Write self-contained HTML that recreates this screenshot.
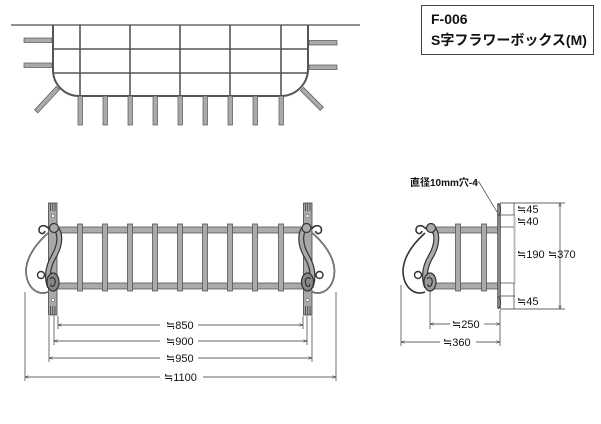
<!DOCTYPE html>
<html><head><meta charset="utf-8"><style>
html,body{margin:0;padding:0;background:#fff;}
svg{display:block;}
text{font-family:"Liberation Sans Narrow","Liberation Sans","Noto Sans CJK JP",sans-serif;fill:#111;}
</style></head><body>
<svg width="601" height="424" viewBox="0 0 601 424" xmlns="http://www.w3.org/2000/svg">
<defs>
<g id="scroll">
  <rect x="48.5" y="203" width="8.5" height="112" fill="#a8a8a8" stroke="#444" stroke-width="0.8"/>
  <g stroke="#333" stroke-width="0.7">
    <line x1="50.5" y1="203" x2="50.5" y2="211"/><line x1="52.8" y1="203" x2="52.8" y2="211"/><line x1="55" y1="203" x2="55" y2="211"/>
    <line x1="50.5" y1="306" x2="50.5" y2="315"/><line x1="52.8" y1="306" x2="52.8" y2="315"/><line x1="55" y1="306" x2="55" y2="315"/>
  </g>
  <circle cx="53" cy="216" r="1.6" fill="#fff" stroke="#444" stroke-width="0.5"/>
  <circle cx="53" cy="300" r="1.6" fill="#fff" stroke="#444" stroke-width="0.5"/>
  <path d="M48,233 C38,242 27,255 26,270 C26,288 38,296 48,292" fill="none" stroke="#333" stroke-width="1.6"/>
  <path d="M48,233 C38,242 27,255 26,270 C26,288 38,296 48,292" fill="none" stroke="#aaa" stroke-width="0.6"/>
  <path d="M49,229 C45,224 39,225 39,230 C39,234 44,235 45,231" fill="none" stroke="#333" stroke-width="1.6"/>
  <circle cx="41" cy="275" r="3.5" fill="none" stroke="#333" stroke-width="1.4"/>
  <path d="M54,227 C62,232 60,246 54,256 C48,266 46,276 50,287" fill="none" stroke="#333" stroke-width="6"/>
  <path d="M54,227 C62,232 60,246 54,256 C48,266 46,276 50,287" fill="none" stroke="#aaa" stroke-width="3.6"/>
  <circle cx="54" cy="228" r="4.5" fill="#aaa" stroke="#333" stroke-width="1.2"/>
  <ellipse cx="53" cy="282" rx="6" ry="9" fill="#888" stroke="#333" stroke-width="1.2"/>
  <path d="M50,279 C52,276 56,278 55,283 C54,288 50,287 51,284" fill="none" stroke="#222" stroke-width="1"/>
</g>
<g id="sscroll">
  <path d="M48,233 C38,242 27,255 26,270 C26,288 38,296 48,292" fill="none" stroke="#333" stroke-width="1.6"/>
  <path d="M49,229 C45,224 39,225 39,230 C39,234 44,235 45,231" fill="none" stroke="#333" stroke-width="1.6"/>
  <circle cx="41" cy="275" r="3.5" fill="none" stroke="#333" stroke-width="1.4"/>
  <path d="M54,227 C62,232 60,246 54,256 C48,266 46,276 50,287" fill="none" stroke="#333" stroke-width="6"/>
  <path d="M54,227 C62,232 60,246 54,256 C48,266 46,276 50,287" fill="none" stroke="#aaa" stroke-width="3.6"/>
  <circle cx="54" cy="228" r="4.5" fill="#aaa" stroke="#333" stroke-width="1.2"/>
  <ellipse cx="53" cy="282" rx="6" ry="9" fill="#999" stroke="#333" stroke-width="1.2"/>
  <path d="M50,279 C52,276 56,278 55,283 C54,288 50,287 51,284" fill="none" stroke="#222" stroke-width="1"/>
</g>
<marker id="ar" viewBox="0 0 8 6" refX="8" refY="3" markerWidth="6" markerHeight="4" orient="auto-start-reverse">
  <path d="M0,0 L8,3 L0,6" fill="none" stroke="#333" stroke-width="1"/>
</marker>
</defs>

<line x1="11" y1="25" x2="360" y2="25" stroke="#222" stroke-width="1"/>
<path d="M53,25 L53,70 A26,26 0 0 0 79,96 L281,96 A27,27 0 0 0 308,69 L308,25" fill="none" stroke="#555" stroke-width="2"/>
<g stroke="#555" stroke-width="1.6">
  <line x1="53" y1="49" x2="308" y2="49"/>
  <line x1="53" y1="73" x2="308" y2="73"/>
  <line x1="80" y1="25" x2="80" y2="96"/>
  <line x1="130" y1="25" x2="130" y2="96"/>
  <line x1="180" y1="25" x2="180" y2="96"/>
  <line x1="230" y1="25" x2="230" y2="96"/>
  <line x1="281" y1="25" x2="281" y2="96"/>
</g>
<g fill="#aaa" stroke="#555" stroke-width="0.7">
  <rect x="78" y="96" width="4.5" height="29"/><rect x="103" y="96" width="4.5" height="29"/>
  <rect x="128" y="96" width="4.5" height="29"/><rect x="153" y="96" width="4.5" height="29"/>
  <rect x="178" y="96" width="4.5" height="29"/><rect x="203" y="96" width="4.5" height="29"/>
  <rect x="228" y="96" width="4.5" height="29"/><rect x="253" y="96" width="4.5" height="29"/>
  <rect x="279" y="96" width="4.5" height="29"/>
  <rect x="24" y="38" width="28" height="4.5"/><rect x="24" y="63" width="28" height="4.5"/>
  <rect x="309" y="40.5" width="28" height="4.5"/><rect x="309" y="65" width="28" height="4.5"/>
  <rect x="-2.25" y="0" width="4.5" height="32" transform="translate(58,88) rotate(43)"/>
  <rect x="-2.25" y="0" width="4.5" height="28" transform="translate(302,89) rotate(-45)"/>
</g>

<rect x="421.5" y="5.5" width="172" height="49" fill="none" stroke="#444" stroke-width="1"/>
<text x="431" y="24" font-size="14" font-weight="bold">F-006</text>
<text x="431" y="45" font-size="14" font-weight="bold">S字フラワーボックス(M)</text>

<g fill="#aaa" stroke="#555" stroke-width="0.8">
  <rect x="57" y="227" width="247" height="6"/>
  <rect x="57" y="283" width="247" height="6"/>
  <rect x="77.5" y="224" width="5" height="67"/><rect x="102.5" y="224" width="5" height="67"/>
  <rect x="127.5" y="224" width="5" height="67"/><rect x="152.5" y="224" width="5" height="67"/>
  <rect x="177.5" y="224" width="5" height="67"/><rect x="202.5" y="224" width="5" height="67"/>
  <rect x="227.5" y="224" width="5" height="67"/><rect x="252.5" y="224" width="5" height="67"/>
  <rect x="278.5" y="224" width="5" height="67"/>
</g>
<use href="#scroll"/>
<use href="#scroll" transform="translate(360.5,0) scale(-1,1)"/>

<g stroke="#333" stroke-width="0.7">
  <line x1="25" y1="292" x2="25" y2="381"/><line x1="336" y1="292" x2="336" y2="381"/>
  <line x1="49" y1="316" x2="49" y2="362"/><line x1="312" y1="316" x2="312" y2="362"/>
  <line x1="54" y1="316" x2="54" y2="345"/><line x1="307" y1="316" x2="307" y2="345"/>
  <line x1="58" y1="316" x2="58" y2="329"/><line x1="303" y1="316" x2="303" y2="329"/>
  <line x1="58" y1="325" x2="160" y2="325" marker-start="url(#ar)"/><line x1="198" y1="325" x2="303" y2="325" marker-end="url(#ar)"/>
  <line x1="54" y1="341" x2="160" y2="341" marker-start="url(#ar)"/><line x1="198" y1="341" x2="307" y2="341" marker-end="url(#ar)"/>
  <line x1="49" y1="358" x2="160" y2="358" marker-start="url(#ar)"/><line x1="198" y1="358" x2="312" y2="358" marker-end="url(#ar)"/>
  <line x1="25" y1="377" x2="160" y2="377" marker-start="url(#ar)"/><line x1="203" y1="377" x2="336" y2="377" marker-end="url(#ar)"/>
</g>
<g font-size="11">
  <text x="166" y="329">≒850</text>
  <text x="166" y="345">≒900</text>
  <text x="166" y="362">≒950</text>
  <text x="164" y="381">≒1100</text>
</g>

<g fill="#aaa" stroke="#555" stroke-width="0.8">
  <rect x="432" y="227" width="66" height="6"/>
  <rect x="432" y="283" width="66" height="6"/>
  <rect x="455.5" y="224" width="5" height="67"/>
  <rect x="481.5" y="224" width="5" height="67"/>
</g>
<use href="#sscroll" transform="translate(377,0)"/>
<rect x="497.5" y="204" width="3" height="104" fill="#888" stroke="#444" stroke-width="0.6"/>
<path d="M498,203 C502,207 501,213 498,216 M498,296 C502,300 501,306 498,309" fill="none" stroke="#333" stroke-width="0.8"/>
<text x="410" y="186" font-size="10" font-weight="bold">直径10mm穴-4</text>
<path d="M474,182 L479,182 L497,212" fill="none" stroke="#333" stroke-width="0.7"/>

<g stroke="#333" stroke-width="0.7">
  <line x1="500" y1="203" x2="565" y2="203"/>
  <line x1="500" y1="215" x2="515" y2="215"/>
  <line x1="500" y1="227" x2="515" y2="227"/>
  <line x1="500" y1="283" x2="515" y2="283"/>
  <line x1="500" y1="296" x2="515" y2="296"/>
  <line x1="500" y1="309" x2="565" y2="309"/>
  <line x1="514" y1="203" x2="514" y2="309"/>
  <line x1="560" y1="203" x2="560" y2="309" marker-start="url(#ar)" marker-end="url(#ar)"/>
  <line x1="430" y1="291" x2="430" y2="329"/>
  <line x1="401" y1="285" x2="401" y2="346"/>
  <line x1="500" y1="310" x2="500" y2="346"/>
  <line x1="430" y1="324" x2="450" y2="324" marker-start="url(#ar)"/><line x1="484" y1="324" x2="500" y2="324" marker-end="url(#ar)"/>
  <line x1="401" y1="342" x2="440" y2="342" marker-start="url(#ar)"/><line x1="476" y1="342" x2="500" y2="342" marker-end="url(#ar)"/>
</g>
<line x1="514.5" y1="215" x2="514.5" y2="283" stroke="#bbb" stroke-width="2"/>
<g font-size="11">
  <text x="517" y="213">≒45</text>
  <text x="517" y="225">≒40</text>
  <text x="517" y="258">≒190</text>
  <text x="548" y="258">≒370</text>
  <text x="517" y="305">≒45</text>
  <text x="452" y="328">≒250</text>
  <text x="443" y="346">≒360</text>
</g>
</svg>
</body></html>
